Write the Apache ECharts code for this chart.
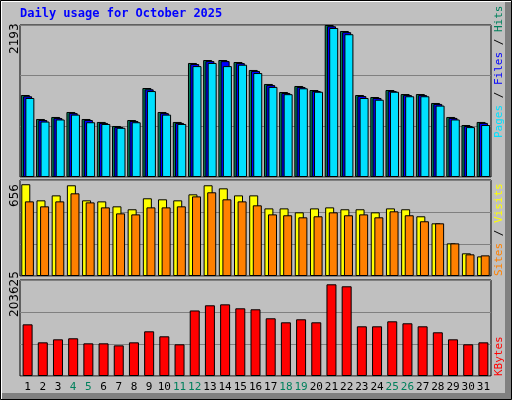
<!DOCTYPE html>
<html><head><meta charset="utf-8">
<script src="https://cdn.jsdelivr.net/npm/echarts@6/dist/echarts.min.js"></script>
<style>body{margin:0;background:#c0c0c0}#c{width:512px;height:400px}</style>
</head><body><div id="c"></div>
<script>
const days = Array.from({length:31},(_,i)=>String(i+1));
const weekend = ['4','5','11','12','18','19','25','26'];
const hits  = [1183,837,866,938,837,794,736,822,1284,938,794,1645,1688,1688,1659,1544,1342,1226,1313,1255,2193,2106,1183,1154,1255,1197,1197,1068,866,750,794];
const files = [1165,822,850,922,822,780,722,808,1265,922,780,1630,1672,1672,1644,1530,1326,1212,1298,1240,2175,2090,1168,1140,1240,1182,1182,1054,852,736,780];
const pages = [1140,800,830,900,790,765,710,790,1240,900,765,1600,1645,1600,1620,1500,1300,1195,1280,1230,2150,2060,1140,1115,1230,1165,1165,1030,830,720,750];
const visits = [627,517,551,620,517,510,476,456,531,524,517,558,620,599,551,551,462,462,435,462,469,456,456,435,462,456,408,360,223,155,134];
const sites  = [510,476,510,565,503,469,428,421,469,469,476,544,572,524,510,483,421,415,401,408,435,415,421,401,442,415,374,360,223,148,141];
const kbytes = [109600,71400,77800,80000,69300,69300,65000,71400,94800,84200,67200,139000,150000,152000,143600,141500,122400,113900,120300,113900,194500,190300,105400,105400,116000,111800,105400,92700,77800,67200,71400];
const maxHits = 2193, maxVisits = 656, maxKB = 203625;

const ch = echarts.init(document.getElementById('c'));
const mono = 'DejaVu Sans Mono';
function grid(top,h){return {left:20,right:21,top:top,height:h,show:true,backgroundColor:'#c0c0c0',borderColor:'#000',borderWidth:1};}
function xa(i,show){return {type:'category',gridIndex:i,data:days,axisLine:{show:false},axisTick:{show:false},
  axisLabel:{show:show,fontFamily:mono,fontSize:11,margin:6,interval:0,
    formatter:v=>weekend.includes(v)?'{g|'+v+'}':'{k|'+v+'}',
    rich:{g:{color:'#00805c',fontFamily:mono,fontSize:11},k:{color:'#000',fontFamily:mono,fontSize:11}}}};}
function ya(i,max){return {type:'value',gridIndex:i,min:0,max:max,interval:max/3,axisLabel:{show:false},axisLine:{show:false},axisTick:{show:false},
  splitLine:{lineStyle:{color:'#808080',width:1}}};}
const bs={borderColor:'#000',borderWidth:1};
ch.setOption({
  backgroundColor:'#c0c0c0',animation:false,
  grid:[grid(25,152),grid(180,96),grid(280,96)],
  xAxis:[xa(0,false),xa(1,false),xa(2,true)],
  yAxis:[ya(0,maxHits),ya(1,maxVisits),ya(2,maxKB)],
  series:[
    {type:'bar',xAxisIndex:0,yAxisIndex:0,data:hits,barWidth:9,barGap:'-75%',itemStyle:{color:'#00805c',...bs}},
    {type:'bar',xAxisIndex:0,yAxisIndex:0,data:files,barWidth:9,barGap:'-75%',itemStyle:{color:'#0000ff',...bs}},
    {type:'bar',xAxisIndex:0,yAxisIndex:0,data:pages,barWidth:9,barGap:'-75%',itemStyle:{color:'#00e0ff',...bs}},
    {type:'bar',xAxisIndex:1,yAxisIndex:1,data:visits,barWidth:9,barGap:'-60%',itemStyle:{color:'#ffff00',...bs}},
    {type:'bar',xAxisIndex:1,yAxisIndex:1,data:sites,barWidth:9,barGap:'-60%',itemStyle:{color:'#ff8000',...bs}},
    {type:'bar',xAxisIndex:2,yAxisIndex:2,data:kbytes,barWidth:10,itemStyle:{color:'#ff0000',...bs}}
  ],
  graphic:[
    {type:'rect',shape:{x:0.5,y:0.5,width:511,height:399},style:{fill:'none',stroke:'#000',lineWidth:1}},
    {type:'rect',shape:{x:505,y:2,width:6,height:397},style:{fill:'#808080'}},
    {type:'rect',shape:{x:2,y:393,width:509,height:6},style:{fill:'#808080'}},
    {type:'rect',shape:{x:1,y:1,width:510,height:1},style:{fill:'#fff'}},
    {type:'rect',shape:{x:1,y:1,width:1,height:398},style:{fill:'#fff'}},
    {type:'text',left:20,top:8,style:{text:'Daily usage for October 2025',fill:'#0000ff',font:'bold 12px "DejaVu Sans Mono"'}},
    {type:'text',x:9,y:54,rotation:Math.PI/2,style:{text:'2193',fill:'#000',font:'12px "DejaVu Sans"'}},
    {type:'text',x:9,y:207,rotation:Math.PI/2,style:{text:'656',fill:'#000',font:'12px "DejaVu Sans"'}},
    {type:'text',x:9,y:317,rotation:Math.PI/2,style:{text:'203625',fill:'#000',font:'12px "DejaVu Sans"'}},
    {type:'text',x:494,y:138,rotation:Math.PI/2,style:{text:'{p|Pages}{s| / }{f|Files}{s| / }{h|Hits}',font:'11px "DejaVu Sans Mono"',
      rich:{p:{fill:'#00e0ff',font:'11px "DejaVu Sans Mono"'},f:{fill:'#0000ff',font:'11px "DejaVu Sans Mono"'},h:{fill:'#00805c',font:'11px "DejaVu Sans Mono"'},s:{fill:'#000',font:'11px "DejaVu Sans Mono"'}}}},
    {type:'text',x:494,y:276,rotation:Math.PI/2,style:{text:'{o|Sites}{s| / }{y|Visits}',font:'11px "DejaVu Sans Mono"',
      rich:{o:{fill:'#ff8000',font:'11px "DejaVu Sans Mono"'},y:{fill:'#ffff00',font:'11px "DejaVu Sans Mono"'},s:{fill:'#000',font:'11px "DejaVu Sans Mono"'}}}},
    {type:'text',x:494,y:376,rotation:Math.PI/2,style:{text:'KBytes',fill:'#ff0000',font:'11px "DejaVu Sans Mono"'}}
  ]
});
</script></body></html>
